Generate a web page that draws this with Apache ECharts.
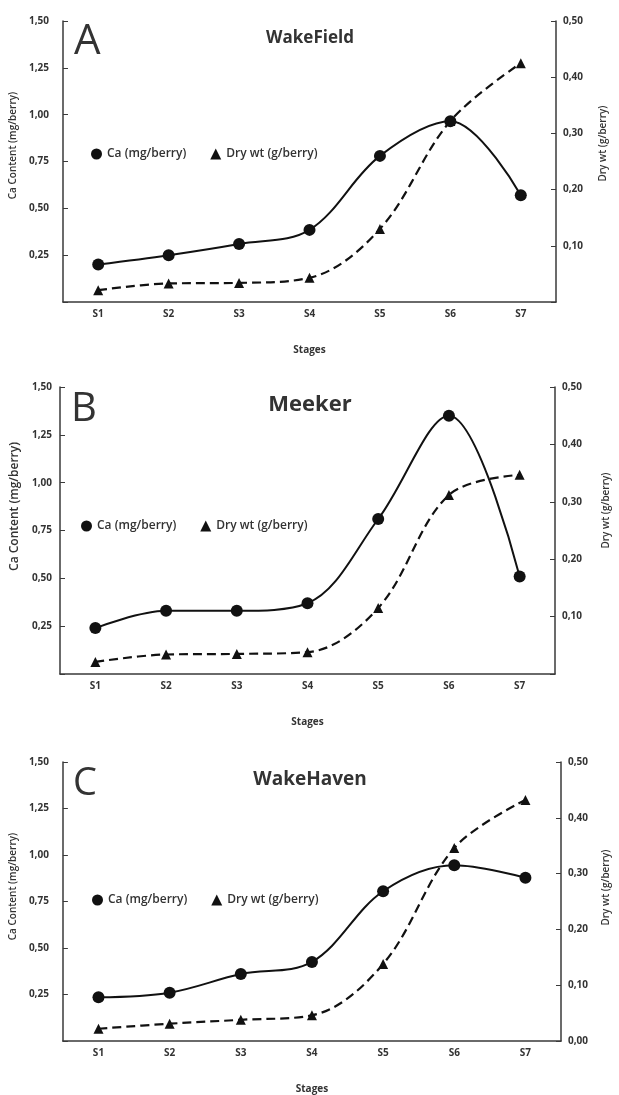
<!DOCTYPE html>
<html>
<head>
<meta charset="utf-8">
<script src="https://cdn.jsdelivr.net/npm/echarts@6/dist/echarts.min.js"></script>
<style>
  html, body { margin: 0; padding: 0; background: #fff; }
  #chart { width: 619px; height: 1095px; }
</style>
</head>
<body>
<div id="chart"></div>
<script>
const stages = ["S1", "S2", "S3", "S4", "S5", "S6", "S7"];

const caWakeField = [0.2, 0.25, 0.31, 0.385, 0.78, 0.965, 0.57];
const dryWakeField = [0.021, 0.033, 0.034, 0.043, 0.13, 0.322, 0.425];

const caMeeker = [0.24, 0.33, 0.33, 0.37, 0.81, 1.35, 0.51];
const dryMeeker = [0.021, 0.034, 0.035, 0.038, 0.115, 0.312, 0.347];

const caWakeHaven = [0.235, 0.26, 0.36, 0.425, 0.805, 0.945, 0.878];
const dryWakeHaven = [0.022, 0.031, 0.038, 0.046, 0.138, 0.346, 0.432];

const leftTicks = [0, 1.5, 0.25];
const rightTicks = [0, 0.5, 0.1];

const caName = "Ca (mg/berry)";
const dryName = "Dry wt (g/berry)";

const FONT = "Open Sans";
const AXIS_COLOR = "#3a3a3a";

// name shifts: padding in the rotated frame pushes the centred name upwards
const panels = [
  { letter: "A", title: "WakeField", ca: caWakeField, dry: dryWakeField,
    grid: { left: 63, right: 63, top: 21, height: 281 },
    titleTop: 25, titleSize: 17, letterTop: 16, letterSize: 42,
    legendTop: 143, legendLeft: 86, showRightZero: false,
    leftName: { gap: 38, size: 10, pad: 32 }, rightName: { gap: 42, pad: 36 } },
  { letter: "B", title: "Meeker", ca: caMeeker, dry: dryMeeker,
    grid: { left: 60, right: 46, top: 387, height: 287 },
    titleTop: 389, titleSize: 22, letterTop: 385, letterSize: 40,
    legendTop: 515, legendLeft: 76, showRightZero: false,
    leftName: { gap: 39, size: 12, pad: 48 }, rightName: { gap: 46, pad: 40 } },
  { letter: "C", title: "WakeHaven", ca: caWakeHaven, dry: dryWakeHaven,
    grid: { left: 62, right: 56, top: 762, height: 284 },
    titleTop: 765, titleSize: 19, letterTop: 760, letterSize: 38,
    legendTop: 889, legendLeft: 87, showRightZero: true,
    leftName: { gap: 38, size: 10, pad: 30 }, rightName: { gap: 40, pad: 28 } },
];

const fmt = (showZero) => (v) =>
  v === 0 && !showZero ? "" : v.toFixed(2).replace(".", ",");

const chart = echarts.init(document.getElementById("chart"));

const option = {
  backgroundColor: "#fff",
  animation: false,
  textStyle: { fontFamily: FONT },
  title: [],
  legend: [],
  grid: [],
  xAxis: [],
  yAxis: [],
  series: [],
};

panels.forEach((p, i) => {
  option.grid.push(p.grid);

  option.title.push({
    text: p.title,
    left: 305, top: p.titleTop,
    textAlign: "center",
    textStyle: { fontFamily: FONT, fontSize: p.titleSize, fontWeight: "bold", color: "#333" },
  });
  option.title.push({
    text: p.letter,
    left: p.grid.left + 6, top: p.letterTop,
    textStyle: { fontFamily: FONT, fontSize: p.letterSize, fontWeight: 400, color: "#333" },
  });

  option.legend.push({
    left: p.legendLeft, top: p.legendTop,
    itemWidth: 11, itemHeight: 11, itemGap: 24,
    textStyle: { fontFamily: FONT, fontSize: 12, fontWeight: 600, color: "#333" },
    data: [
      { name: caName, icon: "circle" },
      { name: dryName, icon: "triangle" },
    ],
  });

  option.xAxis.push({
    type: "category",
    gridIndex: i,
    data: stages,
    boundaryGap: true,
    name: "Stages",
    nameLocation: "middle",
    nameGap: 43,
    nameTextStyle: { fontFamily: FONT, fontSize: 10, fontWeight: "bold", color: "#333" },
    axisLine: { lineStyle: { color: AXIS_COLOR, width: 1.5 } },
    axisTick: { alignWithLabel: true, inside: true, length: 4, lineStyle: { color: AXIS_COLOR } },
    axisLabel: { margin: 7, fontFamily: FONT, fontSize: 10, fontWeight: "bold", color: "#333" },
    splitLine: { show: false },
  });

  option.yAxis.push({
    type: "value",
    gridIndex: i,
    position: "left",
    min: leftTicks[0], max: leftTicks[1], interval: leftTicks[2],
    name: "Ca Content (mg/berry)",
    nameLocation: "middle",
    nameGap: p.leftName.gap,
    nameTextStyle: { fontFamily: FONT, fontSize: p.leftName.size, fontWeight: 600, color: "#333",
      padding: [0, 0, 0, p.leftName.pad] },
    axisLine: { show: true, lineStyle: { color: AXIS_COLOR, width: 1.5 } },
    axisTick: { show: true, inside: true, length: 5, lineStyle: { color: AXIS_COLOR } },
    axisLabel: { margin: i === 1 ? 8 : 14, fontFamily: FONT, fontSize: 10, fontWeight: "bold", color: "#333", formatter: fmt(false) },
    splitLine: { show: false },
  });

  option.yAxis.push({
    type: "value",
    gridIndex: i,
    position: "right",
    min: rightTicks[0], max: rightTicks[1], interval: rightTicks[2],
    name: dryName,
    nameLocation: "middle",
    nameGap: p.rightName.gap,
    nameRotate: 90,
    nameTextStyle: { fontFamily: FONT, fontSize: 10, fontWeight: 600, color: "#333",
      padding: [0, 0, 0, p.rightName.pad] },
    axisLine: { show: true, lineStyle: { color: AXIS_COLOR, width: 1.5 } },
    axisTick: { show: true, inside: true, length: 5, lineStyle: { color: AXIS_COLOR } },
    axisLabel: { margin: 7, fontFamily: FONT, fontSize: 10, fontWeight: "bold", color: "#333", formatter: fmt(p.showRightZero) },
    splitLine: { show: false },
  });

  option.series.push({
    name: caName,
    type: "line",
    xAxisIndex: i,
    yAxisIndex: i * 2,
    data: p.ca,
    smooth: 0.35,
    symbol: "circle",
    symbolSize: 12,
    z: 3,
    itemStyle: { color: "#111" },
    lineStyle: { color: "#111", width: 2 },
  });

  option.series.push({
    name: dryName,
    type: "line",
    xAxisIndex: i,
    yAxisIndex: i * 2 + 1,
    data: p.dry,
    smooth: 0.35,
    symbol: "triangle",
    symbolSize: 10,
    z: 2,
    itemStyle: { color: "#111" },
    lineStyle: { color: "#111", width: 2.2, type: [9, 5] },
  });
});

chart.setOption(option);
</script>
</body>
</html>
